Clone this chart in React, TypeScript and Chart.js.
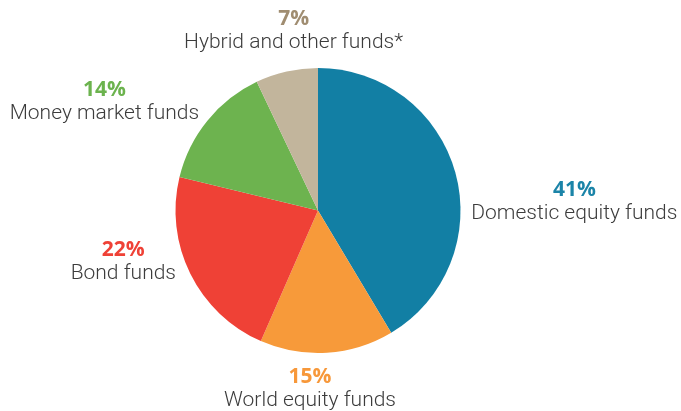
import React, { useEffect, useRef } from "react";
import { Chart, registerables } from "chart.js";

Chart.register(...registerables);

const categories = [
  "Domestic equity funds",
  "World equity funds",
  "Bond funds",
  "Money market funds",
  "Hybrid and other funds*",
];
const shares = [41, 15, 22, 14, 7];
const sliceColors = ["#127FA4", "#F79A3A", "#EF4136", "#6DB34F", "#C2B59C"];
const percentColors = ["#1B84A8", "#F7983A", "#EF4136", "#6CB34E", "#A08D71"];
// label block nudges (center x, name baseline) from each slice's outer mid-point
const labelNudges = [
  [119, 46],
  [-17, 53],
  [-67, 5],
  [-103, -2],
  [7, -24],
];

const labelPlugin = {
  id: "sliceLabels",
  afterDraw(chart: any) {
    const ctx = chart.ctx;
    const meta = chart.getDatasetMeta(0);
    meta.data.forEach((arc: any, i: number) => {
      const p = arc.getProps(["x", "y", "startAngle", "endAngle", "outerRadius"], true);
      const mid = (p.startAngle + p.endAngle) / 2;
      const ax = p.x + Math.cos(mid) * p.outerRadius;
      const ay = p.y + Math.sin(mid) * p.outerRadius;
      const cx = ax + labelNudges[i][0];
      const by = ay + labelNudges[i][1];
      ctx.save();
      ctx.textAlign = "center";
      ctx.textBaseline = "alphabetic";
      ctx.fillStyle = percentColors[i];
      ctx.font = "bold 21px 'Open Sans', sans-serif";
      ctx.fillText(shares[i] + "%", cx, by - 23);
      ctx.fillStyle = "#3C3C3C";
      ctx.font = "300 21px Roboto, sans-serif";
      ctx.fillText(categories[i], cx, by);
      ctx.restore();
    });
  },
};

export default function App() {
  const ref = useRef<HTMLCanvasElement | null>(null);
  useEffect(() => {
    if (!ref.current) return;
    const chart = new Chart(ref.current, {
      type: "pie",
      data: {
        labels: categories,
        datasets: [
          {
            data: shares,
            backgroundColor: sliceColors,
            borderWidth: 0,
          },
        ],
      },
      options: {
        animation: false,
        responsive: false,
        layout: { padding: { top: 68, bottom: 58, left: 175, right: 220 } },
        plugins: { legend: { display: false }, tooltip: { enabled: false } },
      },
      plugins: [labelPlugin],
    });
    return () => chart.destroy();
  }, []);
  return (
    <div style={{ position: "fixed", left: 0, top: 0, width: 681, height: 411, background: "#fff" }}>
      <canvas ref={ref} width={681} height={411} style={{ width: 681, height: 411 }} />
    </div>
  );
}
